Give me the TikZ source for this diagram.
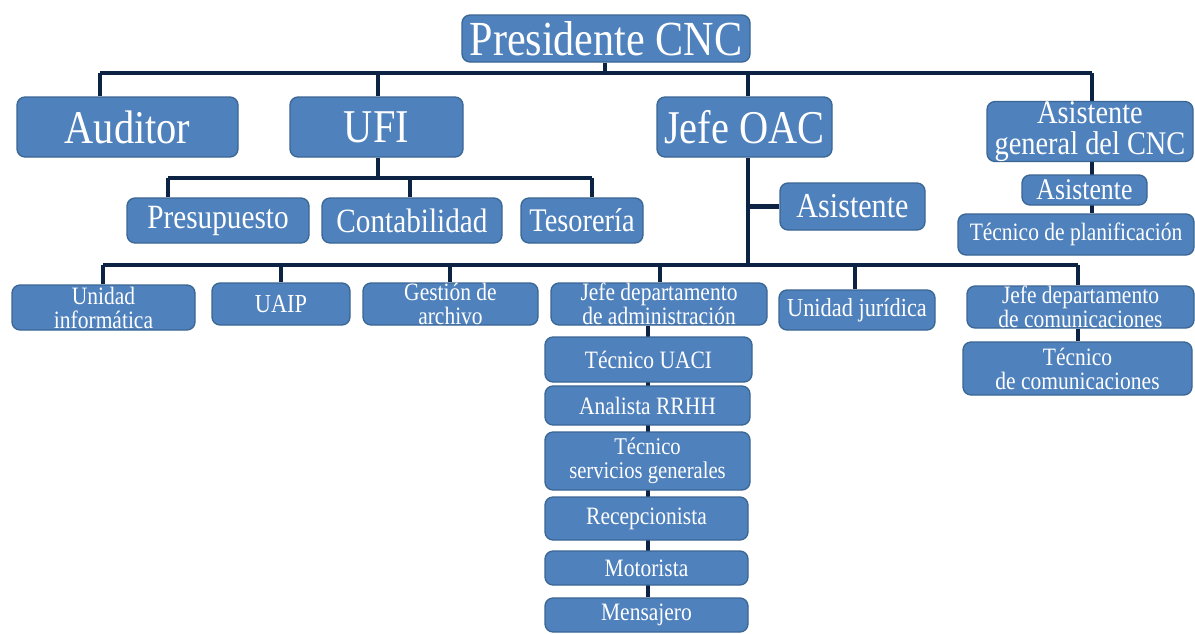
\documentclass[tikz,border=0pt]{standalone}
\usepackage{fontspec}
\setmainfont[FakeStretch=0.86]{Liberation Serif}
\usetikzlibrary{backgrounds}
\definecolor{boxblue}{HTML}{4F81BD}
\definecolor{boxedge}{HTML}{3A6694}
\definecolor{navy}{HTML}{0C2344}
\tikzset{
  box/.style={rounded corners=8pt, fill=boxblue, draw=boxedge, line width=1.3pt,
    text=white, inner sep=0pt, align=center},
  conn/.style={draw=navy, line width=4.5pt}
}
\newcommand\bx[8]{\node[box, minimum width={(#4-#2)*1pt}, minimum height={(#5-#3)*1pt},
  font=\fontsize{#6}{#7}\selectfont] (#1) at ({(#2+#4)/2},{(#3+#5)/2}) {#8};}
\begin{document}
\begin{tikzpicture}[x=1pt,y=-1pt]
\useasboundingbox (0,0) rectangle (1195,633);
% top level
\bx{pres}{462}{15}{750}{62}{49}{44}{Presidente CNC}
\bx{aud}{17}{97}{238}{157}{47}{42}{Auditor}
\bx{ufi}{290}{97}{463}{157}{47}{42}{UFI}
\bx{oac}{657}{97}{832}{157}{47}{42}{Jefe OAC}
\bx{agen}{987}{103}{1193}{160}{33}{31}{Asistente\\general del CNC}
% UFI children
\bx{pre}{127}{198}{309}{243}{34}{30}{Presupuesto}
\bx{con}{322}{198}{502}{243}{34}{30}{Contabilidad}
\bx{tes}{521}{198}{643}{243}{33}{30}{Tesorería}
% OAC assistant
\bx{asis}{780}{183}{925}{230}{35}{30}{Asistente}
% Asistente general chain
\bx{asis2}{1022}{175}{1147}{205}{30}{26}{Asistente}
\bx{tpla}{958}{214}{1194}{255}{25}{22}{Técnico de planificación}
% lower row
\bx{uinf}{12}{285}{195}{330}{25}{24}{Unidad\\informática}
\bx{uaip}{212}{283}{350}{325}{26}{24}{UAIP}
\bx{garc}{363}{283}{538}{325}{25}{24}{Gestión de\\archivo}
\bx{adm}{551}{283}{767}{325}{25}{24}{Jefe departamento\\de administración}
\bx{ujur}{779}{290}{935}{330}{26}{24}{Unidad jurídica}
\bx{jcom}{967}{286}{1194}{328}{25}{24}{Jefe departamento\\de comunicaciones}
\bx{tcom}{963}{342}{1192}{395}{25}{24}{Técnico\\de comunicaciones}
% admin stack
\bx{uaci}{545}{337}{752}{382}{25}{24}{Técnico UACI}
\bx{rrhh}{545}{386}{750}{425}{25}{24}{Analista RRHH}
\bx{sgen}{545}{432}{750}{490}{24}{24}{Técnico\\servicios generales}
\bx{recp}{545}{497}{748}{540}{25}{24}{Recepcionista}
\bx{moto}{545}{551}{748}{585}{25}{24}{Motorista}
\bx{mens}{545}{598}{748}{632}{25}{24}{Mensajero}
% bus coordinates
\coordinate (t0) at (605,73);
\coordinate (tL) at (100,73);
\coordinate (tU) at (378,73);
\coordinate (tO) at (748,73);
\coordinate (tR) at (1092,73);
\coordinate (u0) at (378,178);
\coordinate (uP) at (168,178);
\coordinate (uC) at (410,178);
\coordinate (uT) at (592,178);
\coordinate (o0) at (748,265);
\coordinate (lL) at (103,265);
\coordinate (lU) at (281,265);
\coordinate (lG) at (450,265);
\coordinate (lA) at (660,265);
\coordinate (lJ) at (855,265);
\coordinate (lC) at (1078,265);
\coordinate (sx) at (648,330);
\begin{pgfonlayer}{background}
\draw[conn] (tL) -- (tR);
\draw[conn] (pres.south -| t0) -- (t0);
\draw[conn] (tL) -- (aud.north -| tL);
\draw[conn] (tU) -- (ufi.north -| tU);
\draw[conn] (tO) -- (oac.north -| tO);
\draw[conn] (tR) -- (agen.north -| tR);
\draw[conn] (ufi.south -| u0) -- (u0);
\draw[conn] (uP) -- (uT);
\draw[conn] (uP) -- (pre.north -| uP);
\draw[conn] (uC) -- (con.north -| uC);
\draw[conn] (uT) -- (tes.north -| uT);
\draw[conn] (oac.south -| o0) -- (o0);
\draw[conn] (asis.west) -- (asis.west -| o0);
\draw[conn] (agen.south -| tR) -- (tpla.north -| tR);
\draw[conn] (lL) -- (lC);
\draw[conn] (lL) -- (uinf.north -| lL);
\draw[conn] (lU) -- (uaip.north -| lU);
\draw[conn] (lG) -- (garc.north -| lG);
\draw[conn] (lA) -- (adm.north -| lA);
\draw[conn] (lJ) -- (ujur.north -| lJ);
\draw[conn] (lC) -- (jcom.north -| lC);
\draw[conn] (jcom.south -| lC) -- (tcom.north -| lC);
\draw[conn] (adm.south -| sx) -- (mens.north -| sx);
\end{pgfonlayer}
\end{tikzpicture}
\end{document}
